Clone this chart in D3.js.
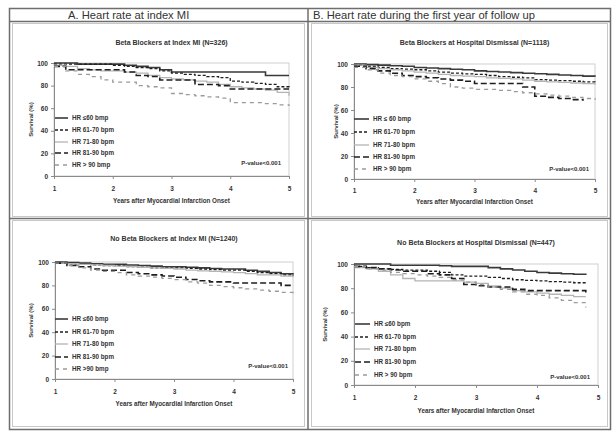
<!DOCTYPE html>
<html><head><meta charset="utf-8">
<script src="https://cdn.jsdelivr.net/npm/d3@7"></script>
<style>body{margin:0;background:#fff}svg{display:block}</style>
</head><body><svg id="c" width="616" height="435"></svg>
<script>
// ---- data ----
const years = [1,1.2,1.4,1.6,1.8,2,2.2,2.4,2.6,2.8,3,3.2,3.4,3.6,3.8,4,4.2,4.4,4.6,4.8,5];
const xTicks = [1,2,3,4,5];
const yTicks = [0,20,40,60,80,100];
const headerA = "A. Heart rate at index MI";
const headerB = "B. Heart rate during the first year of follow up";
const panelTitles = ["Beta Blockers at Index MI (N=326)","Beta Blockers at Hospital Dismissal (N=1118)","No Beta Blockers at Index MI (N=1240)","No Beta Blockers at Hospital Dismissal (N=447)"];
const legendA = ["HR \u226460 bmp","HR 61-70 bpm","HR 71-80 bpm","HR 81-90 bpm","HR > 90 bmp"];
const legendB = ["HR \u2264 60 bmp","HR 61-70 bpm","HR 71-80 bpm","HR 81-90 bpm","HR > 90 bpm"];
const legendC = ["HR \u226460 bmp","HR 61-70 bpm","HR 71-80 bpm","HR 81-90 bpm","HR >90 bmp"];
const legendD = ["HR \u226460 bpm","HR 61-70 bpm","HR 71-80 bpm","HR 81-90 bpm","HR > 90 bpm"];
const pValue = "P-value<0.001";
const xTitle = "Years after Myocardial Infarction Onset";
const yTitle = "Survival (%)";

// Panel A: Beta blockers at index MI
const a60  = [100,100,99,99,99,99,98,97,96,94,92,92,92,92,92,92,92,92,89,89,89];
const a70  = [99,99,99,99,99,98,97,96,95,93,91,90,89,88,87,84,83,82,81,79,78];
const a80  = [98,97,95,94,93,93,92,91,89,87,86,85,84,83,81,79,78,77,76,74,71];
const a90  = [97,94,94,94,94,94,92,89,88,85,85,85,81,81,80,77,77,77,77,77,77];
const a91  = [97,93,90,88,85,83,83,80,79,78,73,72,71,70,69,65,65,65,64,63,62];
// Panel B: Beta blockers at hospital dismissal
const b60  = [100,99.5,99,98.5,98,97,96.5,96,95.5,95,94,93.5,93,92.5,92,91.5,91,90.5,90,89.5,89];
const b70  = [99,98,97,96,95.5,95,94,93,92,91.5,91,90,89,88.5,88,86.5,86,85.5,85,84.5,84];
const b80  = [99,97,96,95,94,93,92,91,90,89.5,89,88,87.5,87,86,85,84.5,84,83.5,83,82];
const b90  = [98,96,94,92,90,89,88,87,86,85,83,83,83,83,80,72,71,70,69,68,null];
const b91  = [97,95,92,90,89,87,85,83,80,79,78,78,77,76,75,74,73,72,71,70,69];
// Panel C: No beta blockers at index MI
const c60  = [100,99.5,99,98.5,98,98,97.5,97,96.5,96,96,95.5,95,94.5,94,94,93,92,91,90,89];
const c70  = [99,98.5,98,97.5,97,97,96,95.5,95,95,95,94.5,94,93.5,93,93,92,91,90,89,88];
const c80  = [99,98.5,98,97.5,97,96.5,96,95.5,95,94.5,94,93,92.5,92,91.5,91,90,89,89,88,87];
const c90  = [99,97,96,94,93,93,91,90,89,88,87,85,84,83,83,82,82,82,82,80,80];
const c91  = [99,97,95,93,92,91,89,88,87,86,85,83,82,80,79,78,77,76,75,74,73];
// Panel D: No beta blockers at hospital dismissal
const d60  = [100,100,100,99,99,99,99,98.5,98,98,98,97,96,95,94,93,92.5,92,91.5,91,null];
const d70  = [98,97,96,95.5,95,95,94,93,91,90,90,89,88,87,86.5,86,85.5,85,84.5,84,null];
const d80  = [97,96,94,91,88,86,86,86,86,85,84,82,80,78,77,76,75,74,73,73,null];
const d90  = [98,97,96,95,94,94,92,91,88,83,82,81,81,79,78,78,78,78,78,76,null];
const d91  = [98,96,95,93,92,91,90,89,87,85,83,81,79,77,75,74,72,70,68,64,null];

// ---- styles (not data) ----
const styles = [
  {stroke:"#3a3a3a", width:1.6, dash:null},
  {stroke:"#1e1e1e", width:1.3, dash:"3,2"},
  {stroke:"#b4b4b4", width:1.3, dash:null},
  {stroke:"#1e1e1e", width:1.6, dash:"6,3"},
  {stroke:"#9a9a9a", width:1.3, dash:"4,4"}
];
const FONT = "'Liberation Sans', Arial, sans-serif";

const panels = [
  {title:panelTitles[0], series:[a60,a70,a80,a90,a91], legend:legendA,
   L:54,R:289,T:63,B:176, titleY:45, tickY:189, xTitleY:203, yTitleX:33,
   legY:[118,130,142,153,165], legX1:55, legX2:68, legTX:72, pX:281, pY:165},
  {title:panelTitles[1], series:[b60,b70,b80,b90,b91], legend:legendB,
   L:354,R:595,T:64,B:179, titleY:45, tickY:191, xTitleY:204, yTitleX:338,
   legY:[119,132,145,157,169], legX1:354, legX2:369, legTX:373, pX:589, pY:171},
  {title:panelTitles[2], series:[c60,c70,c80,c90,c91], legend:legendC,
   L:55,R:293,T:262,B:379, titleY:241, tickY:392, xTitleY:406, yTitleX:33,
   legY:[319,332,344,357,369], legX1:55, legX2:68, legTX:72, pX:288, pY:368},
  {title:panelTitles[3], series:[d60,d70,d80,d90,d91], legend:legendD,
   L:354,R:598,T:264,B:385, titleY:245, tickY:398, xTitleY:413, yTitleX:327,
   legY:[324,337,349,362,375], legX1:355, legX2:370, legTX:374, pX:590, pY:379}
];

const svg = d3.select("#c");
svg.append("rect").attr("width",616).attr("height",435).attr("fill","#fff");

// frames
const fr = svg.append("g").attr("fill","none");
fr.append("rect").attr("x",9.5).attr("y",8.5).attr("width",601).attr("height",421).attr("stroke","#6e6e6e").attr("stroke-width",1.5);
fr.append("line").attr("x1",9.5).attr("x2",610.5).attr("y1",21.5).attr("y2",21.5).attr("stroke","#6e6e6e").attr("stroke-width",1.5);
fr.append("line").attr("x1",308).attr("x2",308).attr("y1",8.5).attr("y2",429.5).attr("stroke","#6e6e6e").attr("stroke-width",1.5);
fr.append("line").attr("x1",9.5).attr("x2",610.5).attr("y1",218.5).attr("y2",218.5).attr("stroke","#6e6e6e").attr("stroke-width",1.5);
// inner chart borders
[[12.5,23.5,292,193],[311.5,23.5,296,193],[12.5,220.5,292,206],[311.5,220.5,296,206]].forEach(r=>{
  fr.append("rect").attr("x",r[0]).attr("y",r[1]).attr("width",r[2]).attr("height",r[3]).attr("stroke","#c8c8c8").attr("stroke-width",1);
});

svg.append("text").attr("x",68).attr("y",18.5).attr("font-family",FONT).attr("font-size",11.2).attr("fill","#333").text(headerA);
svg.append("text").attr("x",313).attr("y",18.5).attr("font-family",FONT).attr("font-size",11.2).attr("fill","#333").text(headerB);

panels.forEach(p=>{
  const g = svg.append("g");
  const x = d3.scaleLinear().domain([1,5]).range([p.L,p.R]);
  const y = d3.scaleLinear().domain([0,100]).range([p.B,p.T]);

  g.append("rect").attr("x",p.L).attr("y",p.T).attr("width",p.R-p.L).attr("height",p.B-p.T)
    .attr("fill","none").attr("stroke","#d0d0d0").attr("stroke-width",1);

  const xa = g.append("g").attr("transform",`translate(0,${p.B})`)
    .call(d3.axisBottom(x).tickValues(xTicks).tickSize(3).tickFormat(d3.format("d")));
  const ya = g.append("g").attr("transform",`translate(${p.L},0)`)
    .call(d3.axisLeft(y).tickValues(yTicks).tickSize(3));
  [xa,ya].forEach(a=>{
    a.select(".domain").attr("stroke","#8a8a8a");
    a.selectAll(".tick line").attr("stroke","#8a8a8a");
    a.selectAll("text").attr("font-family",FONT).attr("font-size",6.5).attr("font-weight","bold").attr("fill","#333");
  });
  xa.selectAll("text").attr("y",null).attr("dy",null).attr("transform",null);
  xa.selectAll(".tick text").attr("y", p.tickY - p.B + 2);

  g.append("text").attr("x",(p.L+p.R)/2).attr("y",p.titleY).attr("text-anchor","middle")
    .attr("font-family",FONT).attr("font-size",7).attr("font-weight","bold").attr("fill","#333").text(p.title);
  g.append("text").attr("x",(p.L+p.R)/2).attr("y",p.xTitleY).attr("text-anchor","middle")
    .attr("font-family",FONT).attr("font-size",6.3).attr("font-weight","bold").attr("fill","#333").text(xTitle);
  g.append("text").attr("transform",`translate(${p.yTitleX},${(p.T+p.B)/2}) rotate(-90)`).attr("text-anchor","middle")
    .attr("font-family",FONT).attr("font-size",6).attr("font-weight","bold").attr("fill","#333").text(yTitle);

  const line = d3.line().defined(d=>d.v!=null).x(d=>x(d.t)).y(d=>y(d.v)).curve(d3.curveStepAfter);
  p.series.forEach((s,i)=>{
    const pts = years.map((t,k)=>({t:t,v:s[k]}));
    const st = styles[i];
    g.append("path").attr("d",line(pts)).attr("fill","none").attr("stroke",st.stroke)
      .attr("stroke-width",st.width).attr("stroke-dasharray",st.dash);
  });

  p.legend.forEach((lab,i)=>{
    const st = styles[i];
    g.append("line").attr("x1",p.legX1).attr("x2",p.legX2).attr("y1",p.legY[i]).attr("y2",p.legY[i])
      .attr("stroke",st.stroke).attr("stroke-width",st.width).attr("stroke-dasharray",st.dash);
    g.append("text").attr("x",p.legTX).attr("y",p.legY[i]+2).attr("font-family",FONT).attr("font-size",6.3)
      .attr("font-weight","bold").attr("fill","#333").text(lab);
  });

  g.append("text").attr("x",p.pX).attr("y",p.pY).attr("text-anchor","end").attr("font-family",FONT)
    .attr("font-size",6).attr("font-weight","bold").attr("fill","#333").text(pValue);
});
</script></body></html>
